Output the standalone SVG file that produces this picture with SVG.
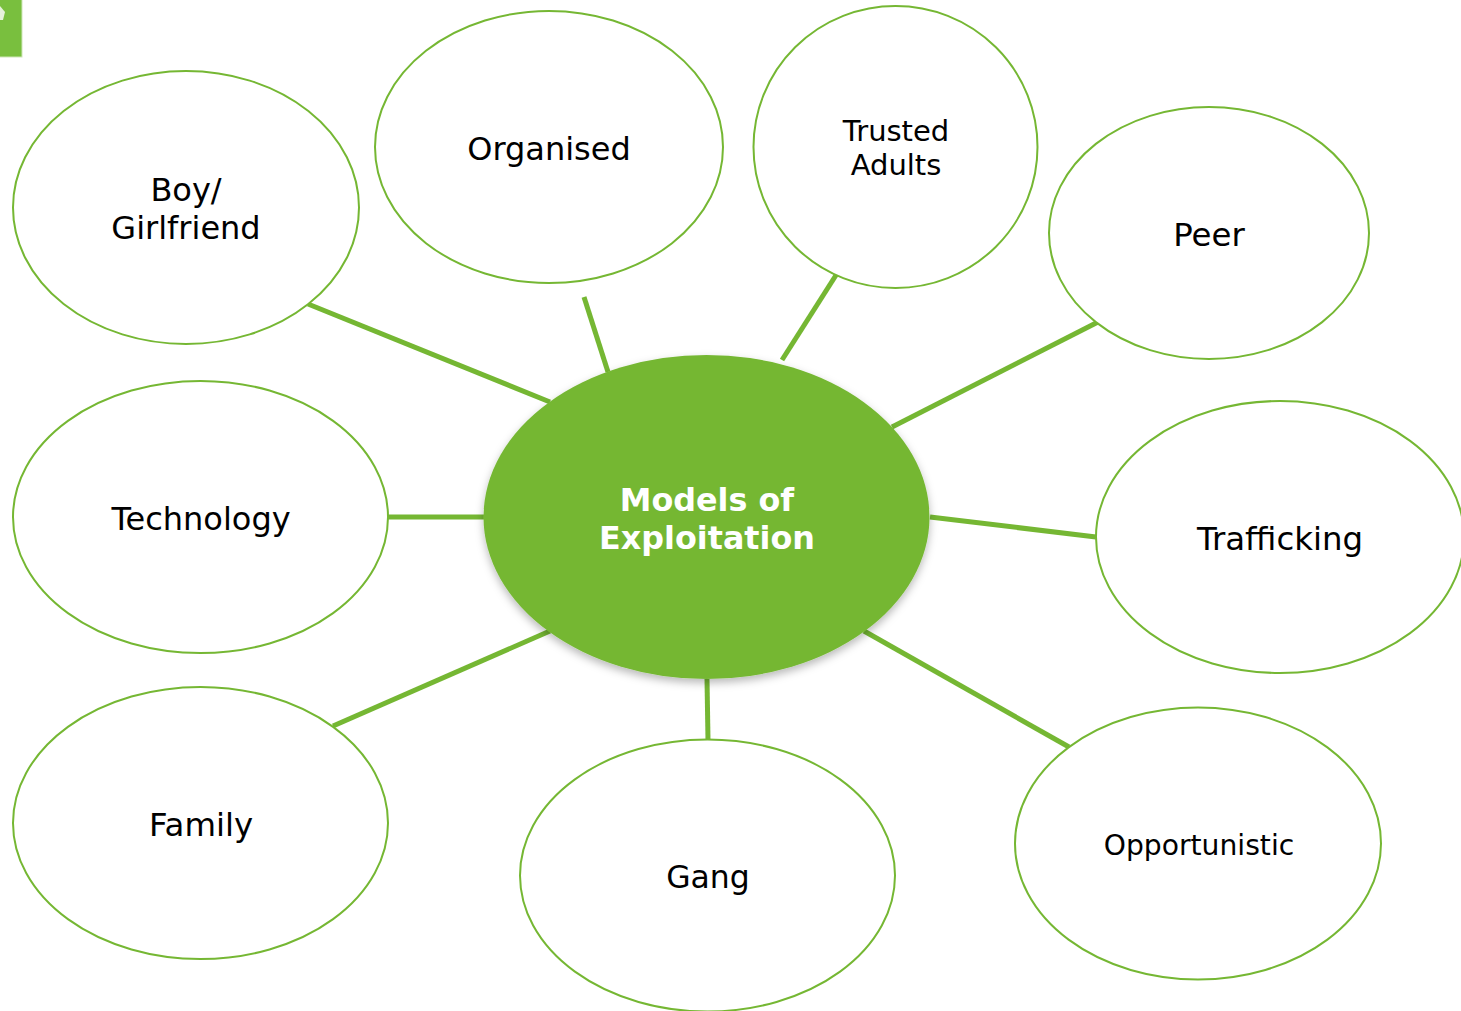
<svg xmlns="http://www.w3.org/2000/svg" width="1461" height="1011" viewBox="0 0 1461 1011">
<style>
.n{fill:#fff;stroke:#75b733;stroke-width:2}
.c{stroke:#75b733;stroke-width:5;fill:none}
text{font-family:"DejaVu Sans",Verdana,sans-serif;text-anchor:middle;fill:#000}
.a{font-size:32.4px}
.d{font-size:32px}
.e{font-size:31.5px}
.b{font-size:29px}
.o{font-size:28.2px}
.h{font-size:31.8px;font-weight:bold;fill:#fff}
</style>
<defs><filter id="s" x="-10%" y="-10%" width="120%" height="125%"><feDropShadow dx="0" dy="4" stdDeviation="4" flood-color="#000" flood-opacity=".28"/></filter></defs>
<rect width="1461" height="1011" fill="#fff"/>
<g id="corner"><rect x="-3" y="-3" width="25" height="60" fill="#79bf3e" stroke="#cfe6b8" stroke-width="1"/><path d="M0 6L5 12L3 20L0 20Z" fill="#e6f2da"/></g>
<g id="connectors">
<line class="c" x1="308" y1="304" x2="550" y2="402"/>
<line class="c" x1="584" y1="297" x2="608" y2="372"/>
<line class="c" x1="838" y1="272" x2="782" y2="360"/>
<line class="c" x1="1098" y1="322" x2="892" y2="427"/>
<line class="c" x1="388" y1="517" x2="484" y2="517"/>
<line class="c" x1="930" y1="517" x2="1096" y2="537"/>
<line class="c" x1="333" y1="726" x2="550" y2="631"/>
<line class="c" x1="707" y1="679" x2="708" y2="740"/>
<line class="c" x1="864" y1="631" x2="1069" y2="747"/>
</g>
<g id="center"><ellipse cx="706.500" cy="517" rx="223" ry="162" fill="#75b733" filter="url(#s)"/><text class="h" x="707" y="511">Models of</text><text class="h" x="707" y="549">Exploitation</text></g>
<g id="boy"><ellipse class="n" cx="186" cy="207.500" rx="173" ry="136.500"/><text class="d" x="186" y="201">Boy/</text><text class="d" x="186" y="239">Girlfriend</text></g>
<g id="organised"><ellipse class="n" cx="549" cy="147" rx="174" ry="136"/><text class="d" x="549" y="160">Organised</text></g>
<g id="trusted"><ellipse class="n" cx="895.500" cy="147" rx="142" ry="141"/><text class="b" x="896" y="141">Trusted</text><text class="b" x="896" y="175">Adults</text></g>
<g id="peer"><ellipse class="n" cx="1209" cy="233" rx="160" ry="126"/><text class="a" x="1209" y="246">Peer</text></g>
<g id="technology"><ellipse class="n" cx="200.500" cy="517" rx="187.500" ry="136"/><text class="d" x="201" y="530">Technology</text></g>
<g id="trafficking"><ellipse class="n" cx="1280" cy="537" rx="184" ry="136"/><text class="a" x="1280" y="550">Trafficking</text></g>
<g id="family"><ellipse class="n" cx="200.500" cy="823" rx="187.500" ry="136"/><text class="a" x="201" y="836">Family</text></g>
<g id="gang"><ellipse class="n" cx="707.500" cy="875.500" rx="187.500" ry="136"/><text class="e" x="708" y="888">Gang</text></g>
<g id="opportunistic"><ellipse class="n" cx="1198" cy="843.500" rx="183" ry="136"/><text class="o" x="1199" y="855">Opportunistic</text></g>
</svg>
